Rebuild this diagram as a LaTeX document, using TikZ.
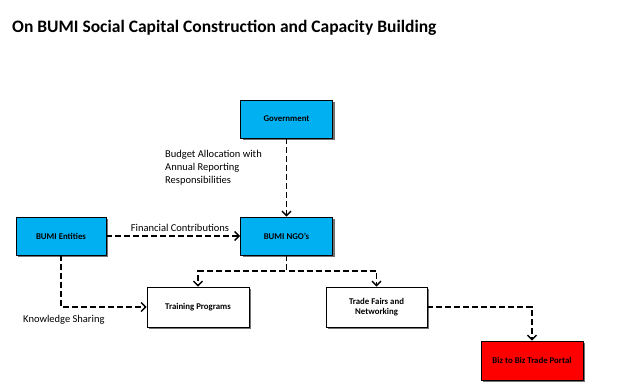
\documentclass[tikz,border=0pt]{standalone}
\usepackage{fontspec}
\setmainfont{Carlito}
\usetikzlibrary{arrows.meta,shadows}
\begin{document}
\begin{tikzpicture}[x=1pt,y=-1pt,
  box/.style={draw=black,line width=0.7pt,minimum width=92pt,minimum height=38pt,inner sep=1pt,
    font=\fontsize{8.8}{10.5}\selectfont\bfseries,align=center,
    drop shadow={shadow xshift=2pt,shadow yshift=-2pt,fill=black!55,opacity=1}},
  bluebox/.style={box,fill={rgb,255:red,0;green,176;blue,240}},
  whitebox/.style={box,fill=white},
  redbox/.style={box,fill={rgb,255:red,255;green,0;blue,0}},
  conn/.style={draw=black,line width=1.8pt,dash pattern=on 6pt off 3pt,-{Straight Barb[length=4.5pt,width=9pt,line width=1.4pt]}},
  lbl/.style={font=\fontsize{10.5}{13}\selectfont,align=left,inner sep=0pt}
]
\useasboundingbox (0,0) rectangle (640,382);
\node[anchor=west,font=\fontsize{17.5}{20}\selectfont\bfseries,inner sep=0pt] (title) at (12,28) {On BUMI Social Capital Construction and Capacity Building};

\node[bluebox] (gov) at (286.5,119) {Government};
\node[bluebox] (ngo) at (286.5,236) {BUMI NGO’s};
\node[bluebox,minimum width=90pt] (ent) at (61,236) {BUMI Entities};
\node[whitebox,minimum width=102pt,minimum height=40pt] (train) at (198,307) {Training Programs};
\node[whitebox,minimum width=101pt,minimum height=40pt] (trade) at (376.5,307) {Trade Fairs and\\Networking};
\node[redbox,minimum width=102pt,minimum height=39pt] (biz) at (532,360.5) {Biz to Biz Trade Portal};

\draw[conn] (gov) -- (ngo);
\draw[conn] (ent) -- (ngo);
\draw[conn] (ngo.south) -- ++(0,16) -| (train.north);
\draw[conn] (ngo.south) -- ++(0,16) -| (trade.north);
\draw[conn] (ent.south) |- (train.west);
\draw[conn] (trade.east) -| (biz.north);

\node[lbl,anchor=north west] (budget) at (165,150) {Budget Allocation with\\Annual Reporting\\Responsibilities};
\node[lbl,anchor=south] (fin) at (180,232) {Financial Contributions};
\node[lbl,anchor=west] (know) at (23,320) {Knowledge Sharing};
\end{tikzpicture}
\end{document}
